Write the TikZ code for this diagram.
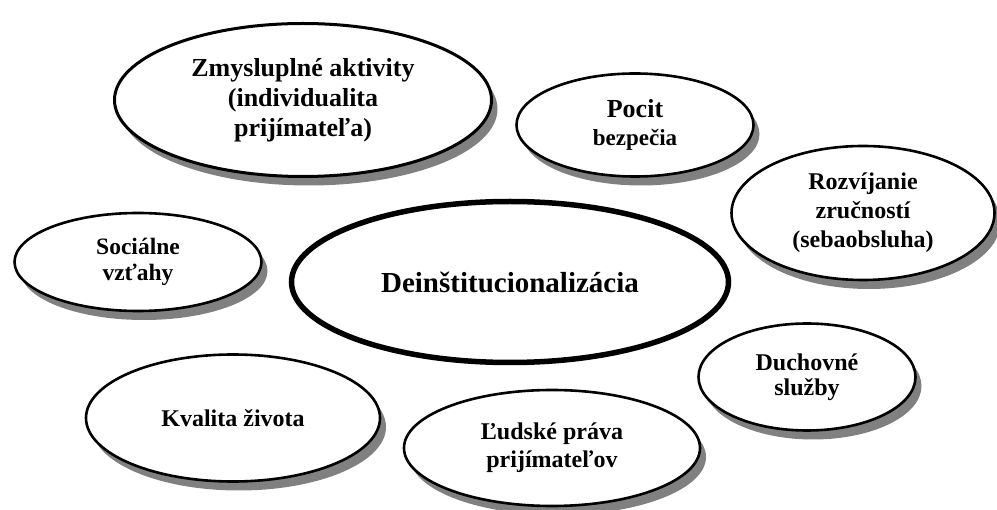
\documentclass[tikz,border=0pt]{standalone}
\usepackage{fontspec}
\setmainfont{Liberation Serif}
\usepackage{tikz}
\usetikzlibrary{shapes.geometric, shadows}

\begin{document}
\begin{tikzpicture}[x=1pt, y=-1pt,
  bubble/.style={ellipse, draw, line width=2.6pt, fill=white, inner sep=0pt,
    align=center, font=\bfseries\fontsize{24}{28}\selectfont,
    drop shadow={shadow xshift=6pt, shadow yshift=-9pt, fill=gray, opacity=1}},
  core/.style={ellipse, draw, line width=5.5pt, fill=white, inner sep=0pt,
    align=center, font=\bfseries\fontsize{29}{33}\selectfont}]
\useasboundingbox (0,0) rectangle (997,510);
% Outer ellipses
\node[bubble, minimum width=377pt, minimum height=153pt, line width=3pt,
  font=\bfseries\fontsize{26}{30}\selectfont] (aktivity) at (303,100)
  {Zmysluplné aktivity\\(individualita\\prijímateľa)};
\node[bubble, minimum width=237pt, minimum height=103pt] (bezpecie) at (635,125)
  {\fontsize{26}{30}\selectfont Pocit\\\fontsize{23}{30}\selectfont bezpečia};
\node[bubble, minimum width=263pt, minimum height=134pt,
  font=\bfseries\fontsize{24}{29}\selectfont] (zrucnosti) at (863,213)
  {Rozvíjanie\\zručností\\(sebaobsluha)};
\node[bubble, minimum width=247pt, minimum height=98pt,
  font=\bfseries\fontsize{23.5}{26}\selectfont] (vztahy) at (138,262)
  {Sociálne\\vzťahy};
\node[bubble, minimum width=217pt, minimum height=107pt,
  font=\bfseries\fontsize{24}{25}\selectfont] (duchovne) at (807,377)
  {Duchovné\\služby};
\node[bubble, minimum width=294pt, minimum height=127pt] (kvalita) at (233,418)
  {Kvalita života};
\node[bubble, minimum width=296pt, minimum height=116pt] (prava) at (552,448)
  {Ľudské práva\\prijímateľov};
% Central ellipse
\node[core, minimum width=437pt, minimum height=161pt] (deinst) at (510,282)
  {Deinštitucionalizácia};
\end{tikzpicture}
\end{document}
